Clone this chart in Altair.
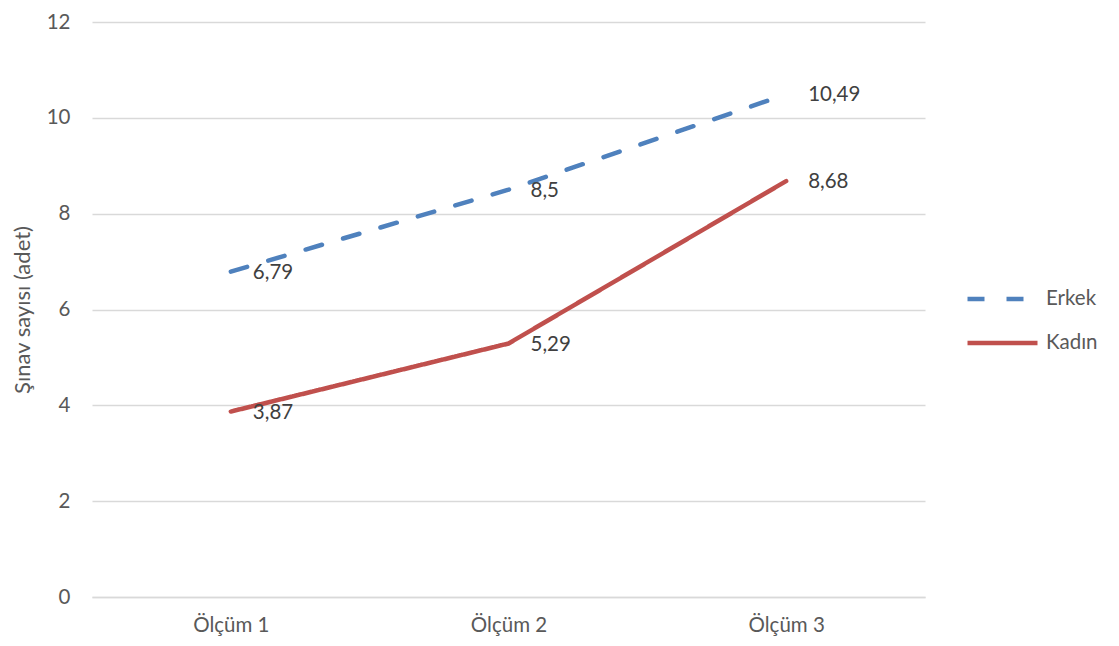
import altair as alt
import pandas as pd

categories = ["Ölçüm 1", "Ölçüm 2", "Ölçüm 3"]
erkek = [6.79, 8.5, 10.49]
kadin = [3.87, 5.29, 8.68]
erkek_labels = ["6,79", "8,5", "10,49"]
kadin_labels = ["3,87", "5,29", "8,68"]

rows = []
for c, v, l in zip(categories, erkek, erkek_labels):
    rows.append({"kategori": c, "deger": v, "etiket": l, "grup": "Erkek"})
for c, v, l in zip(categories, kadin, kadin_labels):
    rows.append({"kategori": c, "deger": v, "etiket": l, "grup": "Kadın"})
df = pd.DataFrame(rows)

FONT = "Lato"
GRAY = "#595959"
FS = 20.5

x = alt.X("kategori:N", sort=categories, title=None,
          scale=alt.Scale(type="point", padding=0.5),
          axis=alt.Axis(labelAngle=0, labelFontSize=FS, labelColor=GRAY, labelFont=FONT,
                        ticks=False, domainColor="#d9d9d9", domainWidth=1.5, labelPadding=18, grid=False))
y = alt.Y("deger:Q", title="Şınav sayısı (adet)",
          scale=alt.Scale(domain=[0, 12], nice=False),
          axis=alt.Axis(values=[0, 2, 4, 6, 8, 10, 12], labelFontSize=FS, labelColor=GRAY, labelFont=FONT,
                        ticks=False, domain=False, labelPadding=22, gridColor="#d9d9d9", gridWidth=1.5,
                        titleFontSize=22, titleColor=GRAY, titleFont=FONT, titleFontWeight="normal",
                        titlePadding=12))

color = alt.Color("grup:N", title=None,
                  scale=alt.Scale(domain=["Erkek", "Kadın"], range=["#4F81BD", "#C0504D"]),
                  legend=alt.Legend(orient="none", legendX=873, legendY=266, symbolType="stroke",
                                    symbolSize=4900, symbolStrokeWidth=4.5, clipHeight=22, rowPadding=22,
                                    labelFontSize=FS, labelColor=GRAY, labelFont=FONT, labelOffset=6))
dash = alt.StrokeDash("grup:N", title=None,
                      scale=alt.Scale(domain=["Erkek", "Kadın"], range=[[17, 22], [1, 0]]),
                      legend=None)

lines = alt.Chart(df).mark_line(strokeWidth=4.5, strokeCap="round").encode(
    x=x, y=y, color=color, strokeDash=dash)

labels = alt.Chart(df).mark_text(align="left", baseline="middle", dx=22, dy=1,
                                 fontSize=FS, font=FONT, color="#404040").encode(
    x=x, y=y, text="etiket:N")

chart = alt.layer(lines, labels).properties(
    width=833, height=575,
    background="white",
    autosize=alt.AutoSizeParams(type="none"),
    padding={"left": 84, "top": 14, "right": 185, "bottom": 40},
).configure_view(stroke=None)

chart.save("out.html", embed_options={"renderer": "svg", "actions": False})
